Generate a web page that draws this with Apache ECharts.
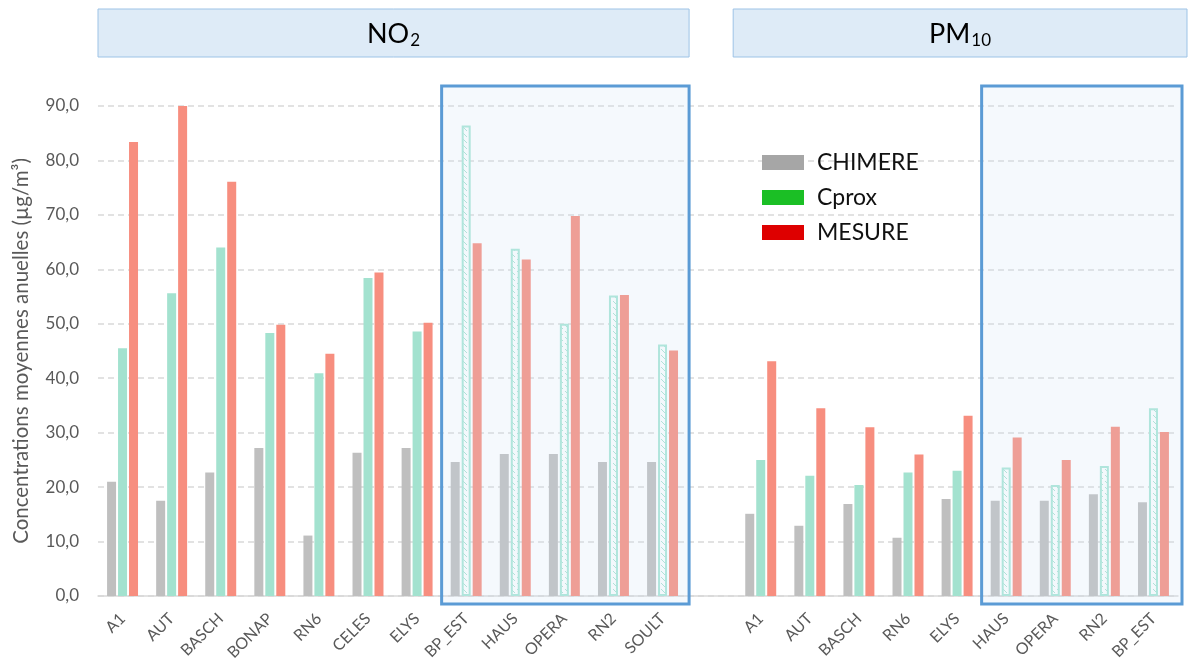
<!DOCTYPE html>
<html><head><meta charset="utf-8">
<script src="https://cdn.jsdelivr.net/npm/echarts@6/dist/echarts.min.js"></script>
<style>html,body{margin:0;padding:0;background:#fff}#c{width:1192px;height:660px}</style>
</head><body><div id="c"></div>
<script>
// ---- data ----
const categoriesNO2 = ['A1','AUT','BASCH','BONAP','RN6','CELES','ELYS','BP_EST','HAUS','OPERA','RN2','SOULT'];
const categoriesPM10 = ['A1','AUT','BASCH','RN6','ELYS','HAUS','OPERA','RN2','BP_EST'];
const chimereNO2 = [21.0,17.5,22.7,27.2,11.1,26.3,27.2,24.6,26.1,26.1,24.6,24.6];
const cproxNO2   = [45.5,55.6,64.0,48.3,40.9,58.4,48.6,86.4,63.8,50.0,55.2,46.2];
const mesureNO2  = [83.4,90.0,76.1,49.8,44.5,59.4,50.2,64.8,61.8,69.8,55.3,45.1];
const chimerePM10 = [15.1,12.9,16.9,10.7,17.8,17.5,17.5,18.7,17.2];
const cproxPM10   = [25.0,22.1,20.4,22.7,23.0,23.6,20.4,23.9,34.5];
const mesurePM10  = [43.1,34.5,31.0,26.0,33.1,29.1,25.0,31.1,30.1];
const highlightStartNO2 = 7;   // BP_EST .. SOULT
const highlightStartPM10 = 5;  // HAUS .. BP_EST
const seriesNames = ['CHIMERE','Cprox','MESURE'];
const panelTitles = [{main:'NO', sub:'2'}, {main:'PM', sub:'10'}];
const yAxisTitle = 'Concentrations moyennes anuelles (µg/m³)';
const yMin = 0, yMax = 90, yStep = 10;

// ---- build ----
const FONT = 'Lato';
const nNO2 = categoriesNO2.length;
const categories = categoriesNO2.concat([''], categoriesPM10);
const pmStart = nNO2 + 1;
const hlNO2 = [highlightStartNO2, nNO2 - 1];
const hlPM = [pmStart + highlightStartPM10, pmStart + categoriesPM10.length - 1];
function joined(a, b) { return a.concat([null], b); }

const pc = document.createElement('canvas');
pc.width = 6; pc.height = 6;
const g = pc.getContext('2d');
g.fillStyle = '#fdfefe'; g.fillRect(0, 0, 6, 6);
g.strokeStyle = '#a9e3d3'; g.lineWidth = 1;
g.beginPath(); g.moveTo(1, 1); g.lineTo(5, 5); g.stroke();

const cproxData = joined(cproxNO2, cproxPM10).map((v, i) => {
  const hl = (i >= hlNO2[0] && i <= hlNO2[1]) || (i >= hlPM[0] && i <= hlPM[1]);
  if (v === null) return null;
  if (!hl) return v;
  return { value: v, itemStyle: { color: { image: pc, repeat: 'repeat' }, borderColor: '#a9e6d6', borderWidth: 2 } };
});

const chart = echarts.init(document.getElementById('c'));
const option = {
  animation: false,
  textStyle: { fontFamily: FONT },
  grid: { left: 98, right: 14, top: 106, bottom: 64, containLabel: false, outerBoundsMode: 'none' },
  legend: {
    orient: 'vertical', left: 757, top: 146, icon: 'rect',
    itemWidth: 42, itemHeight: 15, itemGap: 12, selectedMode: false,
    textStyle: { fontFamily: FONT, fontSize: 23, color: '#111', padding: [0, 0, 0, 8] },
    data: [
      { name: 'CHIMERE', itemStyle: { color: '#a6a6a6' } },
      { name: 'Cprox', itemStyle: { color: '#1bbf25', borderWidth: 0 } },
      { name: 'MESURE', itemStyle: { color: '#de0000' } }
    ]
  },
  xAxis: {
    type: 'category', data: categories,
    axisTick: { show: false },
    axisLine: { lineStyle: { color: '#d9d9d9', width: 1.5 } },
    axisLabel: { interval: 0, rotate: 45, fontSize: 16, color: '#595959', margin: 20, fontFamily: FONT }
  },
  yAxis: {
    type: 'value', min: yMin, max: yMax, interval: yStep,
    name: yAxisTitle, nameLocation: 'middle', nameGap: 66,
    nameTextStyle: { fontSize: 20.5, color: '#595959', fontFamily: FONT },
    axisLine: { show: false }, axisTick: { show: false },
    axisLabel: { fontSize: 17, color: '#595959', margin: 19, fontFamily: FONT,
      formatter: v => v.toFixed(1).replace('.', ',') },
    splitLine: { lineStyle: { color: '#d9d9d9', type: [6, 4], width: 1.5 } }
  },
  series: [
    { name: seriesNames[0], type: 'bar', barWidth: 9, barGap: '22%', data: joined(chimereNO2, chimerePM10),
      itemStyle: { color: '#bfbfbf' } },
    { name: seriesNames[1], type: 'bar', barWidth: 9, barGap: '22%', data: cproxData,
      itemStyle: { color: '#a3e2cf' } },
    { name: seriesNames[2], type: 'bar', barWidth: 9, barGap: '22%', data: joined(mesureNO2, mesurePM10),
      itemStyle: { color: '#f78e7f' } }
  ]
};
chart.setOption(option);

function px(i) { return chart.convertToPixel({ xAxisIndex: 0 }, i); }
const bw = px(1) - px(0);
const yTop = chart.convertToPixel({ yAxisIndex: 0 }, yMax);
const yZero = chart.convertToPixel({ yAxisIndex: 0 }, yMin);
const gridL = px(0) - bw / 2;
const gridR = px(categories.length - 1) + bw / 2;

function boxEls(a, b, extraR) {
  const l = px(a) - bw / 2, r = px(b) + bw / 2 + extraR;
  const t = yTop - 20, bt = yZero + 8;
  return [
    { type: 'rect', z: 100, silent: true, shape: { x: l, y: t, width: r - l, height: bt - t },
      style: { fill: 'rgba(205,225,245,0.2)', stroke: null } },
    { type: 'rect', z: 101, silent: true, shape: { x: l, y: t, width: r - l, height: bt - t },
      style: { fill: null, stroke: '#5b9bd5', lineWidth: 3 } }
  ];
}
function header(l, r, title) {
  return [
    { type: 'rect', silent: true, shape: { x: l, y: 9, width: r - l, height: 48 },
      style: { fill: '#deebf7', stroke: '#9dc3e6', lineWidth: 1 } },
    { type: 'text', silent: true, x: (l + r) / 2, y: 34,
      style: { text: '{m|' + title.main + '}{s|' + title.sub + '}', align: 'center', verticalAlign: 'middle',
        rich: { m: { fontSize: 27, fontFamily: FONT, fill: '#000', lineHeight: 30, verticalAlign: 'middle' },
                s: { fontSize: 17, fontFamily: FONT, fill: '#000', lineHeight: 30, verticalAlign: 'bottom', padding: [0,0,0,1] } } } }
  ];
}
const nBoxR = px(hlNO2[1]) + bw / 2 + 2;
chart.setOption({
  graphic: [].concat(
    boxEls(hlNO2[0], hlNO2[1], 2),
    boxEls(hlPM[0], hlPM[1], 4),
    header(gridL, nBoxR, panelTitles[0]),
    header(px(pmStart) - bw / 2 - 3, gridR + 9, panelTitles[1])
  )
});
</script>
</body></html>
